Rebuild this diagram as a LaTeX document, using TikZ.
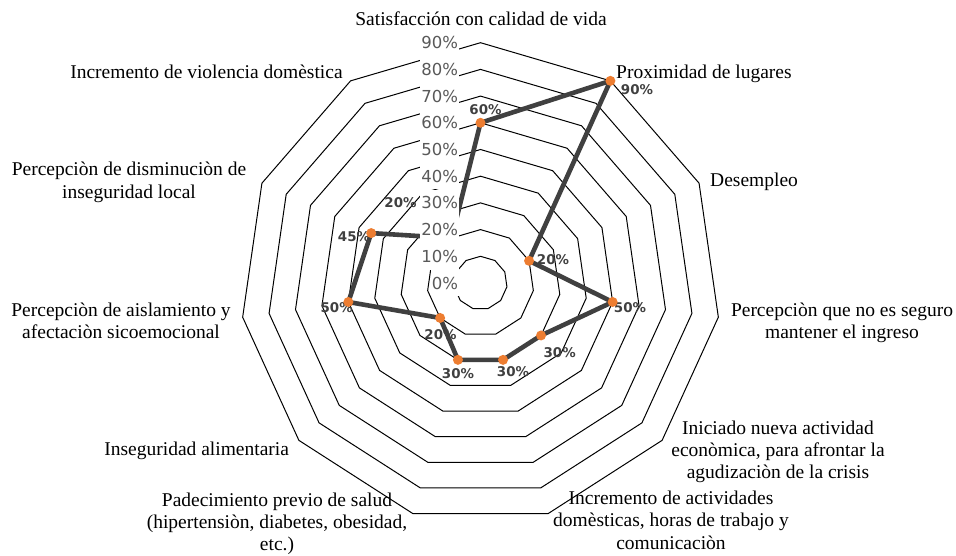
\documentclass[tikz,border=0pt]{standalone}
\usepackage{fontspec}
\setmainfont{Liberation Serif}
\newfontfamily\djv{DejaVu Sans}
\definecolor{serorange}{HTML}{ED7D31}
\definecolor{sergray}{HTML}{404040}
\definecolor{axgray}{HTML}{595959}
\newcommand\catfont{\fontsize{19.5}{22.3}\selectfont}
\tikzset{
  ring/.style={draw=black, line width=1pt, line join=miter},
  dataline/.style={draw=sergray, line width=4.6pt, line join=round},
  marker/.style={circle, fill=serorange, inner sep=0pt, minimum size=10pt},
  datalab/.style={font=\djv\bfseries\fontsize{13.4}{13.4}\selectfont, text=sergray, inner sep=0pt},
  axlab/.style={font=\djv\fontsize{16.5}{16.5}\selectfont, text=axgray, fill=white,
    inner xsep=1pt, inner ysep=7.3pt, text height=12pt, text depth=0pt, anchor=east},
  catlab/.style={font=\catfont, inner sep=0pt, align=center},
}
\begin{document}
\begin{tikzpicture}[x=1pt,y=-1pt]
\useasboundingbox (0,0) rectangle (956,556);
\fill[white] (0,0) rectangle (956,556);

\begin{scope}[shift={(480.5,283)}]
  % grid rings 10% .. 90%
  \foreach \i in {1,...,9}{
    \pgfmathsetmacro\rr{\i*26.7}
    \draw[ring] (90:\rr pt) \foreach \k in {1,...,10}{ -- ({90-\k*360/11}:\rr pt) } -- cycle;
  }
  % data points
  \foreach \v [count=\k from 0] in {60,90,20,50,30,30,30,20,50,45,20}{
    \pgfmathsetmacro\rr{\v*2.67}
    \coordinate (d\k) at ({90-\k*360/11}:\rr pt);
  }
\end{scope}

% series line
\draw[dataline] (d0) -- (d1) -- (d2) -- (d3) -- (d4) -- (d5) -- (d6) -- (d7) -- (d8) -- (d9) -- (d10) -- cycle;

% data labels
\node[datalab] (l0) at (485.5,110) {60\%};
\node[datalab] (l1) at (637,90) {90\%};
\node[datalab] (l2) at (553,259.5) {20\%};
\node[datalab] (l3) at (630,307.5) {50\%};
\node[datalab] (l4) at (559.7,352.7) {30\%};
\node[datalab] (l5) at (513,371.7) {30\%};
\node[datalab] (l6) at (458,373.3) {30\%};
\node[datalab] (l7) at (440.5,334.3) {20\%};
\node[datalab] (l8) at (336.7,307.3) {50\%};
\node[datalab] (l9) at (354,236.7) {45\%};
\node[datalab] (l10) at (400.5,202.7) {20\%};

% markers
\foreach \k in {0,...,10}{ \node[marker] (m\k) at (d\k) {}; }

% axis labels
\node[axlab] (a0) at (459.3,283) {0\%};
\node[axlab] (a1) at (459.3,256.3) {10\%};
\node[axlab] (a2) at (459.3,229.6) {20\%};
\node[axlab] (a3) at (459.3,202.9) {30\%};
\node[axlab] (a4) at (459.3,176.2) {40\%};
\node[axlab] (a5) at (459.3,149.5) {50\%};
\node[axlab] (a6) at (459.3,122.8) {60\%};
\node[axlab] (a7) at (459.3,96.1) {70\%};
\node[axlab] (a8) at (459.3,69.4) {80\%};
\node[axlab] (a9) at (459.3,42.7) {90\%};

% category labels
\node[catlab, anchor=base] (c0) at (481,26) {Satisfacción con calidad de vida};
\node[catlab, anchor=base west] (c1) at (616,78.3) {Proximidad de lugares};
\node[catlab, anchor=base west] (c2) at (710,186.7) {Desempleo};
\node[catlab, anchor=north] (c3) at (842,300.4) {\strut Percepciòn que no es seguro\\mantener el ingreso};
\node[catlab, anchor=north] (c4) at (778,418.2) {\strut Iniciado nueva actividad\\econòmica, para afrontar la\\agudizaciòn de la crisis};
\node[catlab, anchor=north] (c5) at (671,488.6) {\strut Incremento de actividades\\domèsticas, horas de trabajo y\\comunicaciòn};
\node[catlab, anchor=north] (c6) at (277,490.2) {\strut Padecimiento previo de salud\\(hipertensiòn, diabetes, obesidad,\\etc.)};
\node[catlab, anchor=base] (c7) at (196.7,455.5) {Inseguridad alimentaria};
\node[catlab, anchor=north] (c8) at (121,300.4) {\strut Percepciòn de aislamiento y\\afectaciòn sicoemocional};
\node[catlab, anchor=north] (c9) at (129,160.1) {\strut Percepciòn de disminuciòn de\\inseguridad local};
\node[catlab, anchor=base] (c10) at (206.5,79) {Incremento de violencia domèstica};
\end{tikzpicture}
\end{document}
